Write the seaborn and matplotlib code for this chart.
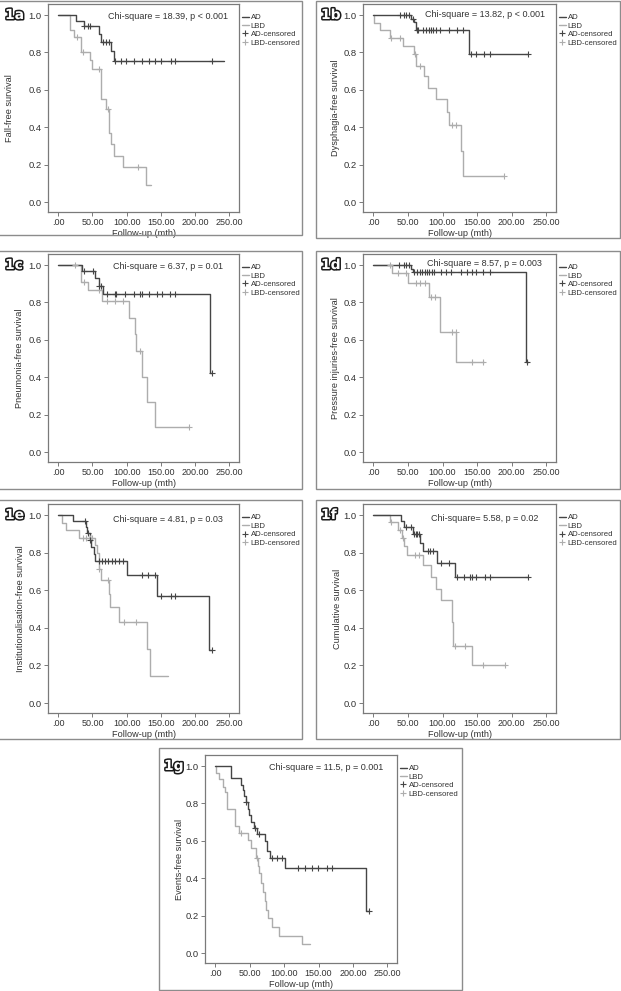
import numpy as np
import pandas as pd
import matplotlib
matplotlib.use('Agg')
import matplotlib.pyplot as plt
import matplotlib.patheffects as pe
from matplotlib.lines import Line2D
from matplotlib.patches import Rectangle
import seaborn as sns

#%% Data (time in months, step survival values)

# 1a fall
a_ad_t = [0, 26, 37, 59, 63, 77, 81.5]
a_ad_s = [1.0, 0.97, 0.94, 0.90, 0.857, 0.81, 0.755]
a_ad_end = 242
a_ad_c = [38, 43, 46, 66, 70, 74, 83, 91, 99, 110, 122, 132, 141, 150, 164, 170, 224]
a_lbd_t = [0, 17, 23, 33, 47, 50, 62, 63, 69, 74, 77, 82, 94, 128]
a_lbd_s = [1.0, 0.92, 0.88, 0.80, 0.76, 0.71, 0.66, 0.55, 0.50, 0.37, 0.31, 0.245, 0.185, 0.09]
a_lbd_end = 136
a_lbd_c = [28, 36, 60, 72, 116]

# 1b dysphagia
b_ad_t = [0, 54.5, 59, 62, 138]
b_ad_s = [1.0, 0.98, 0.963, 0.922, 0.79]
b_ad_end = 223
b_ad_c = [38, 44, 47, 52, 58, 63, 65, 72, 76, 80, 83, 86, 90, 97, 110, 121, 130,
          141, 148, 160, 169, 223]
b_lbd_t = [0, 1, 10, 24, 43, 59, 61, 73, 79, 91, 107, 109, 127, 129]
b_lbd_s = [1.0, 0.96, 0.92, 0.877, 0.832, 0.79, 0.73, 0.672, 0.611, 0.549, 0.48, 0.412, 0.273, 0.137]
b_lbd_end = 189
b_lbd_c = [25, 38, 60, 67, 113, 120, 189]

# 1c pneumonia
c_ad_t = [0, 34, 54, 59, 66, 222]
c_ad_s = [1.0, 0.97, 0.93, 0.89, 0.847, 0.423]
c_ad_end = 224
c_ad_c = [38, 51, 60, 62, 71, 83, 85, 97, 110, 119, 122, 132, 144, 151, 163, 171, 224]
c_lbd_t = [0, 33, 44, 64, 103, 112, 114, 122, 129, 142]
c_lbd_s = [1.0, 0.911, 0.865, 0.806, 0.715, 0.63, 0.538, 0.40, 0.266, 0.133]
c_lbd_end = 191
c_lbd_c = [24, 38, 60, 71, 83, 95, 119, 191]

# 1d pressure injuries
d_ad_t = [0, 55, 57, 220]
d_ad_s = [1.0, 0.98, 0.963, 0.481]
d_ad_end = 223
d_ad_c = [37, 44, 47, 52, 59, 63, 67, 70, 74, 77, 81, 85, 88, 98, 105, 112, 127,
          135, 142, 149, 159, 169, 222]
d_lbd_t = [0, 27, 50, 80, 96, 120]
d_lbd_s = [1.0, 0.955, 0.904, 0.827, 0.643, 0.481]
d_lbd_end = 160
d_lbd_c = [24, 35, 47, 61, 67, 74, 84, 89, 113, 119, 142, 159]

# 1e institutionalisation
e_ad_t = [0, 22, 40, 42, 46, 47.5, 52, 54, 100, 144, 220]
e_ad_s = [1.0, 0.968, 0.937, 0.904, 0.87, 0.83, 0.795, 0.757, 0.68, 0.568, 0.284]
e_ad_end = 224
e_ad_c = [39, 44, 47, 60, 63.5, 68, 73, 78, 83, 88, 95, 122, 131, 141, 150, 164, 171, 224]
e_lbd_t = [0, 5, 11, 31, 53, 57, 59, 62, 74, 76, 88, 130, 134]
e_lbd_s = [1.0, 0.959, 0.92, 0.879, 0.84, 0.80, 0.711, 0.652, 0.58, 0.509, 0.432, 0.289, 0.143]
e_lbd_end = 160
e_lbd_c = [36, 41, 46, 50, 60, 72, 96, 113]

# 1f cumulative
f_ad_t = [0, 40, 44, 57, 68, 72, 92, 118.5]
f_ad_s = [1.0, 0.97, 0.936, 0.902, 0.854, 0.809, 0.746, 0.67]
f_ad_end = 223
f_ad_c = [46.5, 54, 58.5, 61, 63, 66, 79, 82.5, 86, 98, 109, 121, 130.5, 140, 142.5,
          149, 162, 169, 223]
f_lbd_t = [0, 24, 35, 42, 44, 49, 72, 83, 90, 98, 114, 115, 142.5]
f_lbd_s = [1.0, 0.961, 0.92, 0.88, 0.835, 0.786, 0.732, 0.668, 0.607, 0.548, 0.43, 0.304, 0.20]
f_lbd_end = 190.5
f_lbd_c = [26, 38, 43, 60, 66, 118.5, 133, 159, 190.5]

# 1g events
g_ad_t = [0, 23, 38, 40, 42, 44, 47, 49, 52, 56, 60, 72, 75, 80, 101, 219.6]
g_ad_s = [1.0, 0.937, 0.90, 0.87, 0.84, 0.809, 0.77, 0.74, 0.70, 0.671, 0.636,
          0.60, 0.545, 0.509, 0.454, 0.225]
g_ad_end = 223
g_ad_c = [45, 58, 64, 83, 89, 96.5, 120.7, 130, 140, 149.6, 162.6, 170, 223]
g_lbd_t = [0, 1.5, 6, 11, 14.5, 17, 29, 35, 48, 52, 59, 62, 64, 66, 70, 72, 74, 76, 82, 93, 126]
g_lbd_s = [1.0, 0.965, 0.929, 0.89, 0.86, 0.768, 0.68, 0.643, 0.604, 0.5625, 0.51,
           0.466, 0.43, 0.375, 0.327, 0.28, 0.232, 0.1875, 0.139, 0.091, 0.046]
g_lbd_end = 137.5
g_lbd_c = [37, 61]

tags = ['1a', '1b', '1c', '1d', '1e', '1f', '1g']
ylabels = ['Fall-free survival', 'Dysphagia-free survival', 'Pneumonia-free survival',
           'Pressure injuries-free survival', 'Institutionalisation-free survival',
           'Cumulative survival', 'Events-free survival']
chi_texts = ['Chi-square = 18.39, p < 0.001', 'Chi-square = 13.82, p < 0.001',
             'Chi-square = 6.37, p = 0.01', 'Chi-square = 8.57, p = 0.003',
             'Chi-square = 4.81, p = 0.03', 'Chi-square= 5.58, p = 0.02',
             'Chi-square = 11.5, p = 0.001']
x_ticks = [0, 50, 100, 150, 200, 250]
x_ticklabels = ['.00', '50.00', '100.00', '150.00', '200.00', '250.00']
y_ticks = [0.0, 0.2, 0.4, 0.6, 0.8, 1.0]
legend_labels = ['AD', 'LBD', 'AD-censored', 'LBD-censored']

curves = [
    ((a_ad_t, a_ad_s, a_ad_end, a_ad_c), (a_lbd_t, a_lbd_s, a_lbd_end, a_lbd_c)),
    ((b_ad_t, b_ad_s, b_ad_end, b_ad_c), (b_lbd_t, b_lbd_s, b_lbd_end, b_lbd_c)),
    ((c_ad_t, c_ad_s, c_ad_end, c_ad_c), (c_lbd_t, c_lbd_s, c_lbd_end, c_lbd_c)),
    ((d_ad_t, d_ad_s, d_ad_end, d_ad_c), (d_lbd_t, d_lbd_s, d_lbd_end, d_lbd_c)),
    ((e_ad_t, e_ad_s, e_ad_end, e_ad_c), (e_lbd_t, e_lbd_s, e_lbd_end, e_lbd_c)),
    ((f_ad_t, f_ad_s, f_ad_end, f_ad_c), (f_lbd_t, f_lbd_s, f_lbd_end, f_lbd_c)),
    ((g_ad_t, g_ad_s, g_ad_end, g_ad_c), (g_lbd_t, g_lbd_s, g_lbd_end, g_lbd_c)),
]

#%% Layout (pixels): panel box, axes box, y-label offset, chi text height
boxes = [(-3, 0.5, 302, 235), (316, 0.5, 620, 238),
         (-3, 251, 302, 489), (316, 251, 620, 489),
         (-3, 500, 302, 739), (316, 500, 620, 739),
         (159, 748, 462, 990)]
axboxes = [(48, 4, 239, 212), (363, 4, 556, 212),
           (48, 254, 239, 462), (363, 254, 556, 462),
           (48, 504, 239, 713), (363, 504, 556, 713),
           (205, 755, 397, 963)]
ylab_off = [33.5, 23.5, 23.5, 23.5, 22.5, 21.5, 20.5]
chi_y = [0.94, 0.95, 0.94, 0.955, 0.925, 0.93, 0.94]

sns.set_style('white')
plt.rcParams['font.family'] = ['Liberation Sans', 'DejaVu Sans']

W, H = 621, 991
AD_COL = '#454545'
LBD_COL = '#adadad'
SPINE = '#7a7a7a'
TXT = '#333333'


def km_frame(t, s, end):
    return pd.DataFrame({'t': list(t) + [end], 's': list(s) + [s[-1]]})


def cens_y(t, s, c):
    idx = np.searchsorted(t, c, side='right') - 1
    return np.asarray(s)[idx]


fig = plt.figure(figsize=(W / 100, H / 100), dpi=100)

for i in range(7):
    bx0, by0, bx1, by1 = boxes[i]
    fig.add_artist(Rectangle((bx0 / W, 1 - by1 / H), (bx1 - bx0) / W, (by1 - by0) / H,
                             transform=fig.transFigure, fill=False,
                             edgecolor='#8c8c8c', lw=1.0))
    x0, y0, x1, y1 = axboxes[i]
    ax = fig.add_axes([x0 / W, 1 - y1 / H, (x1 - x0) / W, (y1 - y0) / H])

    # LBD under AD
    for (t, s, end, c), col in [(curves[i][1], LBD_COL), (curves[i][0], AD_COL)]:
        sns.lineplot(data=km_frame(t, s, end), x='t', y='s', drawstyle='steps-post',
                     color=col, lw=1.0, estimator=None, sort=False, ax=ax)
        sns.scatterplot(x=c, y=cens_y(t, s, c), marker='+', s=18, color=col,
                        linewidth=0.8, ax=ax, legend=False, zorder=3)

    ax.set_xlim(-15, 264)
    ax.set_ylim(-0.053, 1.059)
    ax.set_xticks(x_ticks)
    ax.set_xticklabels(x_ticklabels)
    ax.set_yticks(y_ticks)
    ax.set_yticklabels(['%.1f' % v for v in y_ticks])
    for sp in ax.spines.values():
        sp.set_color(SPINE)
        sp.set_linewidth(0.9)
    ax.tick_params(bottom=True, left=True, length=3, width=0.7, color=SPINE,
                   labelsize=6.5, labelcolor=TXT, pad=1.5)
    ax.tick_params(axis='y', labelsize=6.8)
    ax.set_xlabel('Follow-up (mth)', fontsize=6.6, color=TXT, labelpad=1.5)
    ax.set_ylabel(ylabels[i], fontsize=6.6, color=TXT)
    ax.yaxis.set_label_coords(-ylab_off[i] / (x1 - x0), 0.5)

    ax.text(0.63, chi_y[i], chi_texts[i], transform=ax.transAxes, ha='center',
            va='center', fontsize=6.5, color=TXT)

    handles = [Line2D([], [], color=AD_COL, lw=1.0),
               Line2D([], [], color=LBD_COL, lw=1.0),
               Line2D([], [], color=AD_COL, marker='+', ls='none', ms=5, mew=0.8),
               Line2D([], [], color=LBD_COL, marker='+', ls='none', ms=5, mew=0.8)]
    leg = ax.legend(handles, legend_labels, loc='upper left', bbox_to_anchor=(1.015, 0.952),
                    frameon=False, fontsize=5.6, handlelength=0.9, handletextpad=0.25,
                    labelspacing=0.12, borderaxespad=0, borderpad=0)
    for txt in leg.get_texts():
        txt.set_color(TXT)

    fig.text((max(bx0, 0) + 5) / W, 1 - (y0 + 11) / H, tags[i], fontsize=10,
             fontweight='bold', color='white', ha='left', va='center',
             family='DejaVu Sans',
             path_effects=[pe.withStroke(linewidth=2.2, foreground='#1a1a1a')])

fig.savefig('out.png', dpi=100, facecolor='white')
